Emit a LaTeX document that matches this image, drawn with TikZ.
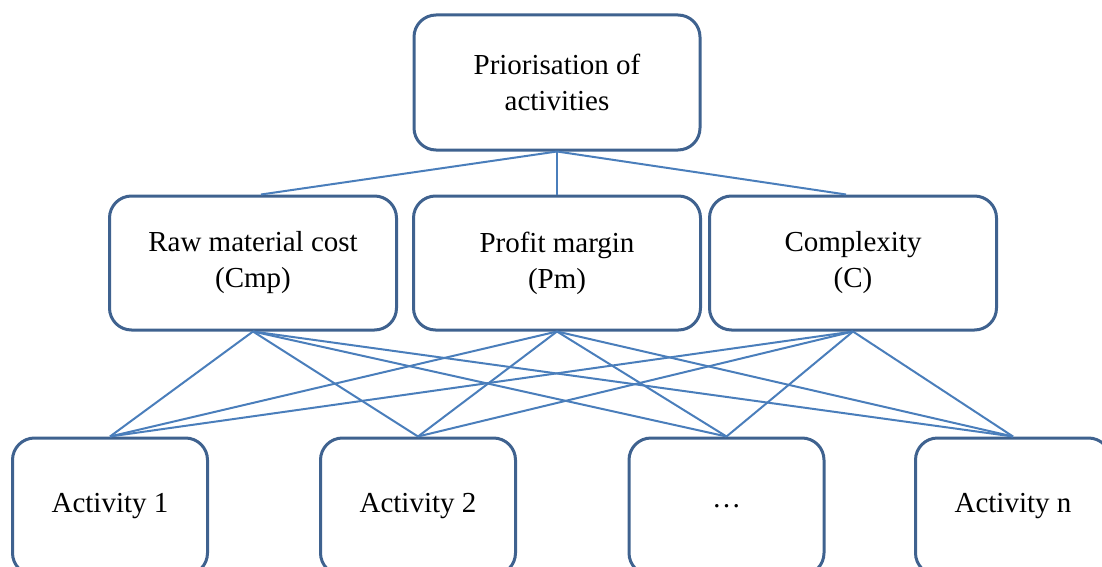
\documentclass[tikz,border=0pt]{standalone}
\usepackage{fontspec}
\setmainfont{Liberation Serif}
\usetikzlibrary{positioning}
\definecolor{boxblue}{RGB}{63,98,143}
\definecolor{lineblue}{RGB}{74,126,187}

\begin{document}
\begin{tikzpicture}[x=1pt,y=-1pt,
    crit/.style={draw=boxblue,line width=3pt,rounded corners=22pt,align=center,
      inner sep=0pt,font=\fontsize{29}{36}\selectfont},
    mid/.style={crit,minimum width=287pt,minimum height=134pt},
    act/.style={crit,minimum width=195pt,minimum height=137pt},
    link/.style={draw=lineblue,line width=2pt}]
    \useasboundingbox (0,0) rectangle (1102,567);
    \clip (0,0) rectangle (1102,567);
    \node[crit,minimum width=286pt,minimum height=135pt] (goal) at (557,82.5) {Priorisation of\\activities};
    \node[mid] (raw) at (253,263) {Raw material cost\\(Cmp)};
    \node[mid] (profit) at (557,263) {Profit margin\\(Pm)};
    \node[mid] (cplx) at (853,263) {Complexity\\(C)};
    \node[act] (act1) at (110,506.5) {Activity 1};
    \node[act] (act2) at (418,506.5) {Activity 2};
    \node[act] (actdots) at (726.5,506.5) {…};
    \node[act] (actn) at (1013,506.5) {Activity n};
    % criteria to goal
    \draw[link] (goal.south) -- ([xshift=8pt]raw.north);
    \draw[link] (goal.south) -- (profit.north);
    \draw[link] (goal.south) -- ([xshift=-7pt]cplx.north);
    % every activity to every criterion
    \foreach \c in {raw,profit,cplx}
      \foreach \a in {act1,act2,actdots,actn}
        \draw[link] (\c.south) -- (\a.north);
  \end{tikzpicture}
\end{document}
